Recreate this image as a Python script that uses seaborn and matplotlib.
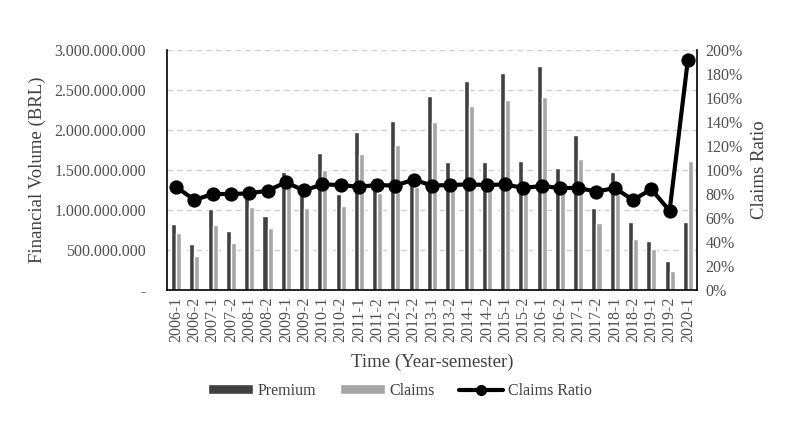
import numpy as np
import pandas as pd
import matplotlib
matplotlib.use("Agg")
import matplotlib.pyplot as plt
from matplotlib.ticker import FuncFormatter
from matplotlib.lines import Line2D
from matplotlib.patches import Patch
import seaborn as sns

periods = [f"{y}-{s}" for y in range(2006, 2020) for s in (1, 2)] + ["2020-1"]

# values (BRL)
premium = [821e6, 575e6, 1016e6, 737e6, 1292e6, 929e6, 1471e6, 1250e6,
           1717e6, 1200e6, 1979e6, 1396e6, 2108e6, 1400e6, 2425e6, 1604e6,
           2612e6, 1596e6, 2712e6, 1617e6, 2804e6, 1521e6, 1933e6, 1021e6,
           1479e6, 846e6, 608e6, 367e6, 846e6]
claims = [708e6, 429e6, 812e6, 592e6, 1042e6, 771e6, 1292e6, 1021e6,
          1500e6, 1050e6, 1700e6, 1212e6, 1817e6, 1283e6, 2100e6, 1396e6,
          2300e6, 1383e6, 2375e6, 1367e6, 2417e6, 1290e6, 1642e6, 833e6,
          1200e6, 633e6, 508e6, 242e6, 1617e6]
claims_ratio = [0.86, 0.75, 0.80, 0.80, 0.805, 0.828, 0.897, 0.83,
                0.88, 0.875, 0.86, 0.875, 0.87, 0.92, 0.87, 0.875,
                0.88, 0.875, 0.88, 0.85, 0.867, 0.85, 0.85, 0.82,
                0.85, 0.75, 0.84, 0.66, 1.917]

dark = "#404040"
light = "#a6a6a6"
grey_txt = "#505050"

sns.set_style("white")
plt.rcParams["font.family"] = ["Liberation Serif", "DejaVu Serif"]

df = pd.DataFrame({
    "period": periods * 2,
    "value": premium + claims,
    "series": ["Premium"] * len(periods) + ["Claims"] * len(periods),
})

fig = plt.figure(figsize=(8, 4.34), dpi=100)
ax = fig.add_axes([167 / 800, 1 - 290 / 434, 530 / 800, 240 / 434])

sns.barplot(data=df, x="period", y="value", hue="series",
            palette={"Premium": dark, "Claims": light}, width=0.55,
            saturation=1, legend=False, ax=ax)

ax.set_ylim(0, 3e9)
ax.set_yticks(np.arange(0, 3.01e9, 5e8))
ax.yaxis.set_major_formatter(FuncFormatter(
    lambda v, p: "-" if v == 0 else f"{int(v):,}".replace(",", ".")))
ax.yaxis.grid(True, color="#d0d0d0", linestyle=(0, (4, 3)), linewidth=1)
ax.set_axisbelow(True)
ax.set_xlim(-0.5, len(periods) - 0.5)
ax.tick_params(axis="x", rotation=90, labelsize=11.5, colors=grey_txt, length=0, pad=5)
ax.tick_params(axis="y", labelsize=11.5, colors=grey_txt, length=0, pad=15)
ax.set_xlabel("Time (Year-semester)", fontsize=13.5, color="#404040", labelpad=8)
ax.set_ylabel("Financial Volume (BRL)", fontsize=13.5, color="#404040", labelpad=6)
for s in ["top", "right"]:
    ax.spines[s].set_visible(False)
for s in ["left", "bottom"]:
    ax.spines[s].set_color("black")
    ax.spines[s].set_linewidth(1.2)

ax2 = ax.twinx()
sns.pointplot(x=periods, y=claims_ratio, color="black", markers="o",
              markersize=8, linewidth=3, ax=ax2)
ax2.set_xlim(-0.5, len(periods) - 0.5)
ax2.set_ylim(0, 2.0)
ax2.set_yticks(np.arange(0, 2.01, 0.2))
ax2.yaxis.set_major_formatter(FuncFormatter(lambda v, p: f"{v * 100:.0f}%"))
ax2.tick_params(axis="y", labelsize=11.5, colors=grey_txt, length=0, pad=6)
ax2.set_ylabel("Claims Ratio", fontsize=13.5, color="#404040", labelpad=6)
for s in ["top", "left", "bottom"]:
    ax2.spines[s].set_visible(False)
ax2.spines["right"].set_color("black")
ax2.spines["right"].set_linewidth(1.2)

handles = [
    Patch(facecolor=dark, label="Premium"),
    Patch(facecolor=light, label="Claims"),
    Line2D([0], [0], color="black", linewidth=3, marker="o", markersize=7,
           label="Claims Ratio"),
]
fig.legend(handles=handles, loc="center", bbox_to_anchor=(0.5, 1 - 391 / 434),
           ncol=3, frameon=False, fontsize=11.5, handlelength=2.8,
           handleheight=0.6, columnspacing=1.5, handletextpad=0.3,
           labelcolor="#404040")

fig.savefig("out.png", dpi=100)
